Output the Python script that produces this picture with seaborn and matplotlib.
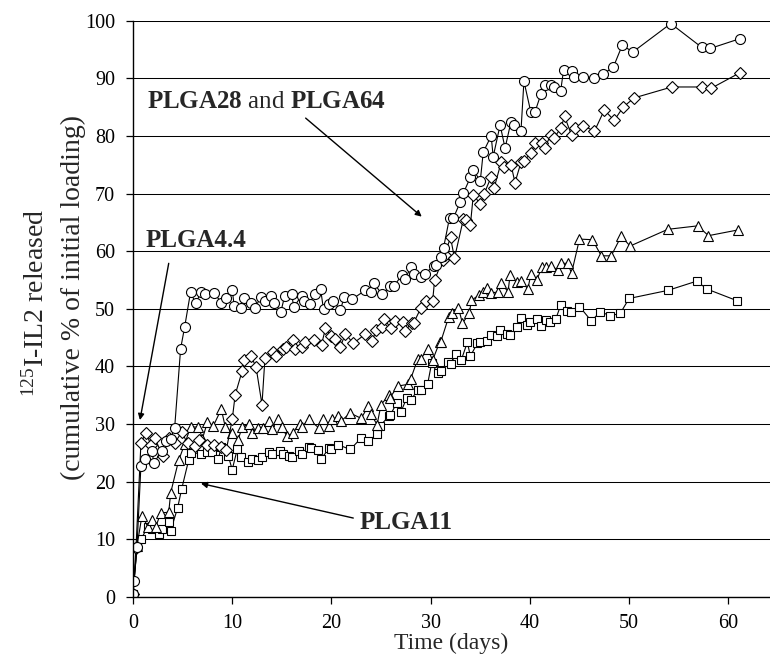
import matplotlib
matplotlib.use("Agg")
import matplotlib.pyplot as plt
import seaborn as sns
import pandas as pd

# ---------------------------
# 1. Data
# ---------------------------
circle_days = [0, 0.1, 0.4, 0.8, 1.2, 1.9, 2.1, 2.9, 3.3, 3.8, 4.2, 4.8, 5.2, 5.8, 6.3, 6.9, 7.3, 8.2,
               8.9, 9.4, 10.0, 10.2, 10.9, 11.2, 11.9, 12.3, 12.9, 13.3, 13.9, 14.2, 14.9, 15.3, 16.0,
               16.2, 17.0, 17.2, 17.8, 18.3, 18.9, 19.2, 19.8, 20.2, 20.9, 21.3, 22.1, 23.4, 24.0, 24.3,
               25.1, 25.9, 26.3, 27.1, 27.4, 28.0, 28.3, 29.0, 29.4, 30.3, 30.5, 31.0, 31.3, 31.9, 32.3,
               33.0, 33.3, 34.0, 34.3, 35.0, 35.3, 36.1, 36.3, 37.0, 37.5, 38.1, 38.4, 39.1, 39.4, 40.1,
               40.5, 41.1, 41.5, 42.1, 42.4, 43.1, 43.4, 44.2, 44.4, 45.4, 46.5, 47.4, 48.4, 49.3, 50.4,
               54.2, 57.3, 58.2, 61.2]
circle_vals = [0.5, 2.8, 8.7, 22.8, 24.0, 25.4, 23.3, 25.3, 27.0, 27.5, 29.4, 43.1, 46.8, 52.9, 51.0, 52.9,
               52.5, 52.7, 51.1, 51.8, 53.3, 50.5, 50.2, 51.8, 51.0, 50.2, 52.1, 51.3, 52.3, 51.1, 49.5,
               52.3, 52.5, 50.3, 52.3, 51.4, 50.8, 52.6, 53.5, 49.9, 50.9, 51.3, 49.8, 52.1, 51.7, 53.2,
               52.9, 54.4, 52.5, 53.9, 54.0, 55.8, 55.1, 57.2, 56.0, 55.6, 56.0, 57.5, 57.6, 59.0, 60.6,
               65.8, 65.8, 68.6, 70.1, 72.8, 74.1, 72.2, 77.2, 80.0, 76.4, 81.9, 77.9, 82.5, 81.9, 80.8,
               89.5, 84.1, 84.1, 87.2, 88.9, 88.9, 88.5, 87.8, 91.5, 91.3, 90.3, 90.3, 90.1, 90.8, 91.9,
               95.7, 94.6, 99.5, 95.4, 95.2, 96.9]

diamond_days = [0, 0.3, 0.8, 1.3, 1.8, 2.2, 3.0, 3.6, 4.2, 4.9, 5.5, 6.2, 6.7, 7.5, 8.2, 8.9, 9.4, 10.0,
                10.3, 11.0, 11.2, 11.9, 12.4, 13.0, 13.3, 14.1, 14.4, 15.1, 15.4, 16.1, 16.3, 17.0, 17.3,
                18.2, 19.0, 19.4, 20.0, 20.4, 20.9, 21.4, 22.2, 23.4, 24.1, 24.5, 25.1, 25.3, 26.0, 26.4,
                27.2, 27.4, 28.1, 28.3, 29.0, 29.5, 30.2, 30.4, 31.2, 31.4, 32.0, 32.4, 33.3, 33.6, 34.0,
                34.3, 35.0, 35.4, 36.1, 36.4, 37.1, 37.4, 38.1, 38.5, 39.1, 39.4, 40.1, 40.5, 41.2, 41.5,
                42.1, 42.4, 43.1, 43.5, 44.2, 44.5, 45.4, 46.5, 47.5, 48.5, 49.4, 50.5, 54.3, 57.3, 58.3,
                61.2]
diamond_vals = [0.5, 8.5, 26.7, 28.5, 26.4, 27.6, 24.4, 27.6, 26.7, 28.6, 26.7, 26.2, 27.3, 26.4, 26.4,
                26.1, 25.5, 30.8, 35.1, 39.2, 41.2, 41.8, 39.9, 33.4, 41.5, 42.5, 41.8, 43.1, 43.4, 44.6,
                43.1, 43.3, 44.3, 44.6, 43.8, 46.6, 45.3, 44.7, 43.4, 45.7, 44.0, 45.6, 44.4, 46.3, 46.9,
                48.3, 46.6, 47.9, 47.7, 46.1, 47.6, 47.6, 50.1, 51.4, 51.4, 55.0, 58.5, 59.3, 62.4, 58.8,
                65.6, 65.5, 64.5, 69.8, 68.2, 70.0, 72.9, 71.0, 75.4, 74.7, 75.0, 71.9, 75.4, 75.7, 77.0,
                78.7, 78.8, 77.9, 80.2, 79.6, 81.3, 83.4, 80.1, 81.3, 81.8, 80.8, 84.5, 82.7, 85.0, 86.6,
                88.5, 88.5, 88.3, 91.0]

triangle_days = [0, 0.4, 0.9, 1.5, 1.9, 2.3, 2.8, 3.6, 3.8, 4.6, 5.2, 5.8, 6.6, 7.0, 7.5, 8.1, 8.9, 9.3,
                 10.0, 10.6, 11.0, 11.7, 12.0, 12.6, 13.1, 13.7, 14.0, 14.6, 15.0, 15.5, 16.1, 16.8, 17.0,
                 17.7, 18.7, 19.1, 19.8, 20.1, 20.7, 21.0, 21.9, 23.0, 23.7, 24.0, 24.6, 25.0, 25.8, 25.9,
                 26.7, 27.7, 28.0, 28.7, 29.0, 29.7, 30.2, 30.9, 31.0, 31.8, 32.1, 32.8, 33.2, 33.9, 34.1,
                 34.9, 35.3, 35.7, 36.1, 36.8, 37.1, 37.8, 38.0, 38.7, 39.1, 39.8, 40.1, 40.7, 41.2, 41.6,
                 42.1, 42.8, 43.1, 43.8, 44.2, 45.0, 46.3, 47.2, 48.2, 49.2, 50.1, 53.9, 56.9, 58.0, 61.0]
triangle_vals = [0.5, 8.8, 14.1, 12.2, 13.4, 12.2, 14.6, 14.7, 18.1, 23.7, 26.5, 29.5, 29.5, 27.5, 30.3,
                 29.7, 32.6, 29.5, 28.5, 27.3, 29.5, 30.0, 28.5, 29.4, 29.3, 30.5, 29.1, 30.9, 29.5, 27.9,
                 28.4, 30.1, 29.5, 30.8, 29.4, 30.8, 29.7, 30.8, 31.4, 30.6, 31.9, 31.0, 33.1, 31.7, 29.9,
                 33.4, 35.0, 34.6, 36.6, 36.9, 37.9, 41.3, 41.3, 43.0, 41.1, 44.2, 44.2, 48.5, 49.3, 50.2,
                 47.5, 49.2, 51.5, 52.4, 52.9, 53.6, 52.8, 52.9, 54.4, 53.0, 55.8, 54.6, 54.8, 53.5, 56.0,
                 55.0, 57.2, 57.2, 57.4, 56.8, 57.9, 57.9, 56.2, 62.1, 62.0, 59.2, 59.2, 62.6, 60.9, 63.8,
                 64.4, 62.7, 63.7]

square_days = [0, 0.4, 0.8, 1.5, 1.9, 2.6, 2.9, 3.6, 3.8, 4.5, 4.9, 5.6, 5.8, 6.9, 7.5, 8.0, 8.6, 8.9, 9.6,
               10.0, 10.5, 10.9, 11.6, 12.0, 12.6, 13.0, 13.7, 14.0, 14.8, 15.1, 15.7, 16.0, 16.7, 17.0,
               17.7, 17.9, 18.6, 18.9, 19.8, 20.0, 20.7, 21.9, 23.0, 23.7, 24.6, 24.9, 25.8, 25.9, 26.6,
               27.0, 27.6, 28.0, 28.7, 29.0, 29.7, 30.1, 30.7, 31.0, 31.7, 32.0, 32.6, 33.1, 33.7, 34.0,
               34.7, 35.0, 35.7, 36.1, 36.7, 37.0, 37.7, 38.0, 38.7, 39.1, 39.7, 40.0, 40.7, 41.1, 41.6,
               42.0, 42.6, 43.1, 43.7, 44.1, 45.0, 46.2, 47.1, 48.1, 49.1, 50.0, 53.9, 56.8, 57.9, 60.9]
square_vals = [0.5, 8.6, 10.0, 12.2, 11.8, 11.0, 11.8, 13.1, 11.5, 15.5, 18.7, 23.7, 25.0, 24.9, 25.1,
               25.1, 23.9, 26.1, 24.5, 22.1, 25.6, 24.3, 23.5, 23.9, 23.7, 24.3, 25.2, 24.8, 25.3, 24.9,
               24.5, 24.3, 25.3, 24.8, 26.1, 25.8, 25.5, 23.9, 25.8, 25.7, 26.4, 25.6, 27.6, 27.1, 28.2,
               29.7, 31.4, 31.5, 33.7, 32.1, 34.6, 34.2, 35.9, 36.0, 37.0, 40.6, 38.8, 39.3, 40.7, 40.5,
               42.2, 41.2, 44.2, 41.8, 44.0, 44.2, 44.4, 45.5, 45.3, 46.4, 45.6, 45.4, 46.9, 48.4, 47.2,
               47.8, 48.2, 47.0, 48.1, 47.8, 48.2, 50.6, 49.7, 49.4, 50.4, 47.9, 49.5, 48.8, 49.2, 51.8,
               53.2, 54.8, 53.4, 51.4]

x_ticks = [0, 10, 20, 30, 40, 50, 60]
y_ticks = [0, 10, 20, 30, 40, 50, 60, 70, 80, 90, 100]

# ---------------------------
# 2. Style
# ---------------------------
sns.set_style("ticks")
plt.rcParams['font.family'] = ['Liberation Serif', 'DejaVu Serif']
plt.rcParams['mathtext.fontset'] = 'custom'
plt.rcParams['mathtext.rm'] = 'Liberation Serif'
plt.rcParams['mathtext.bf'] = 'Liberation Serif:bold'
plt.rcParams['mathtext.default'] = 'regular'

fig = plt.figure(figsize=(7.7, 6.66), dpi=100)
ax = fig.add_axes([133 / 770, 1 - 597 / 666, 1 - 133 / 770, (597 - 20.7) / 666])

# ---------------------------
# 3. Lines
# ---------------------------
series = [
    (square_days, square_vals, 's', 6.3),
    (triangle_days, triangle_vals, '^', 7.5),
    (diamond_days, diamond_vals, 'D', 5.8),
    (circle_days, circle_vals, 'o', 7.2),
]
for days, vals, marker, ms in series:
    d = pd.DataFrame({'day': days, 'val': vals})
    sns.lineplot(data=d, x='day', y='val', ax=ax, estimator=None, sort=False,
                 color='black', linewidth=0.8, marker=marker, markersize=ms,
                 markerfacecolor='white', markeredgecolor='black', markeredgewidth=0.8)

# ---------------------------
# 4. Axes
# ---------------------------
ax.set_xlim(0, 64.2)
ax.set_ylim(0, 100)
ax.set_xticks(x_ticks)
ax.set_yticks(y_ticks)
ax.yaxis.grid(True, color='black', linewidth=0.75)
ax.set_axisbelow(True)
sns.despine(ax=ax, top=True, right=True)
for sp in ['left', 'bottom']:
    ax.spines[sp].set_color('black')
    ax.spines[sp].set_linewidth(1.0)
ax.tick_params(axis='both', direction='out', length=5, width=0.9, color='black',
               labelsize=14.5, labelcolor='black')
ax.tick_params(axis='y', pad=8)
ax.tick_params(axis='x', pad=7)

ax.set_xlabel("Time (days)", fontsize=17)
ax.xaxis.set_label_coords(0.5, -0.062)
ax.set_ylabel("")

fig.text(36 / 770, 1 - 397 / 666, "$^{125}$I-IL2 released", rotation=90,
         ha='center', va='bottom', fontsize=20)
fig.text(73 / 770, 1 - 480 / 666, "(cumulative % of initial loading)", rotation=90,
         ha='center', va='bottom', fontsize=20)

# ---------------------------
# 5. Annotations
# ---------------------------
arrow = dict(arrowstyle='-|>', color='black', lw=1.0, mutation_scale=9, shrinkA=0, shrinkB=0)
ax.text(1.4, 84.9, r"$\mathbf{PLGA28}$ and $\mathbf{PLGA64}$", fontsize=18, va='baseline')
ax.annotate("", xy=(29.1, 66.0), xytext=(17.4, 83.1), arrowprops=arrow)
ax.text(1.3, 60.8, "PLGA4.4", fontsize=18, fontweight='bold', va='baseline')
ax.annotate("", xy=(0.7, 30.7), xytext=(3.6, 57.9), arrowprops=arrow)
ax.text(22.8, 11.8, "PLGA11", fontsize=18, fontweight='bold', va='baseline')
ax.annotate("", xy=(6.85, 19.7), xytext=(22.2, 13.7), arrowprops=arrow)

fig.savefig("out.png", dpi=100)
plt.close(fig)
